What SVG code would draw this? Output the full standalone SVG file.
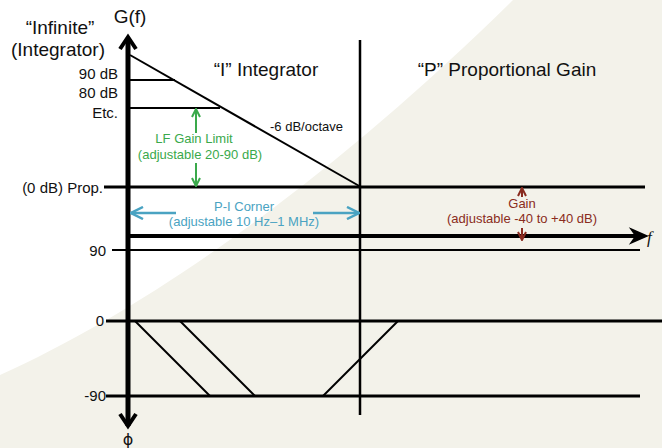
<svg xmlns="http://www.w3.org/2000/svg" width="662" height="448" viewBox="0 0 662 448">
<defs>
<style>
text{font-family:"Liberation Sans",Arial,sans-serif;fill:#111}
.big{font-size:19px}
.mid{font-size:15px}
.sm{font-size:13px}
.ax{stroke:#000;fill:none;stroke-linecap:butt}
.thin{stroke:#000;stroke-width:2;fill:none}
.dot{stroke:#000;stroke-width:3;fill:none}
.green{stroke:#3aa94b;stroke-width:2;fill:none}
.blue{stroke:#4aa3c2;stroke-width:2.5;fill:none}
.red{stroke:#8a2c20;stroke-width:2;fill:none}
</style>
<marker id="mg" viewBox="0 0 10 10" refX="9" refY="5" markerWidth="10" markerHeight="10" markerUnits="userSpaceOnUse" orient="auto"><polyline points="1,1 9,5 1,9" fill="none" stroke="#3aa94b" stroke-width="2"/></marker>
<marker id="mb" viewBox="0 0 14 14" refX="13" refY="7" markerWidth="14" markerHeight="14" markerUnits="userSpaceOnUse" orient="auto"><polyline points="1,1 13,7 1,13" fill="none" stroke="#4aa3c2" stroke-width="2.5"/></marker>
<marker id="mr" viewBox="0 0 10 10" refX="9" refY="5" markerWidth="10" markerHeight="10" markerUnits="userSpaceOnUse" orient="auto"><polyline points="1,1 9,5 1,9" fill="none" stroke="#8a2c20" stroke-width="2"/></marker>
</defs>
<rect width="662" height="448" fill="#fff"/>
<path d="M0,375 C160,303 340,170 513,0 L662,0 L662,448 L0,448 Z" fill="#f3f2ea"/>

<g id="connectors">
<line class="dot" x1="104" y1="187" x2="645" y2="187"/>
<line class="ax" stroke-width="2.5" x1="360" y1="40" x2="360" y2="415"/>
<line class="thin" x1="130" y1="55" x2="361" y2="187"/>
<line class="thin" x1="130" y1="80" x2="175" y2="80"/>
<line class="thin" x1="130" y1="108" x2="220" y2="108"/>
<line class="thin" x1="112" y1="250" x2="640" y2="250"/>
<line class="dot" x1="106" y1="321" x2="662" y2="321"/>
<line class="dot" x1="106" y1="396" x2="640" y2="396"/>
<line class="thin" x1="135" y1="321" x2="210" y2="396"/>
<line class="thin" x1="180" y1="321" x2="255" y2="396"/>
<line class="thin" x1="323" y1="396" x2="398" y2="321"/>
<line class="ax" stroke-width="4" x1="128" y1="236" x2="640" y2="236"/>
<path d="M631,229 L647,236 L631,243 L636,236 Z" fill="#000" stroke="#000" stroke-width="1.5"/>
<line class="ax" stroke-width="5" x1="128" y1="38" x2="128" y2="426"/>
<polyline class="ax" stroke-width="4" points="120,49 128,37 136,49"/>
<polyline class="ax" stroke-width="4" points="120,414 128,426 136,414"/>
<line class="green" x1="196" y1="133" x2="196" y2="109" marker-end="url(#mg)"/>
<line class="green" x1="196" y1="163" x2="196" y2="186" marker-end="url(#mg)"/>
<line class="blue" x1="176" y1="213" x2="131" y2="213" marker-end="url(#mb)"/>
<line class="blue" x1="313" y1="213" x2="359" y2="213" marker-end="url(#mb)"/>
<line class="red" x1="522" y1="197" x2="522" y2="188" marker-end="url(#mr)"/>
<line class="red" x1="522" y1="228" x2="522" y2="240" marker-end="url(#mr)"/>
</g>

<g id="axis-labels">
<text class="big" x="130" y="23" text-anchor="middle">G(f)</text>
<text class="big" x="60" y="34" text-anchor="middle">“Infinite”</text>
<text class="big" x="58" y="56" text-anchor="middle">(Integrator)</text>
<text x="647" y="243" style="font-family:'Liberation Serif',serif;font-style:italic;font-size:17px">f</text>
<text x="128" y="445" text-anchor="middle" style="font-family:'DejaVu Sans',sans-serif;font-size:16px">ϕ</text>
</g>
<g id="gain-labels">
<text class="mid" x="118" y="79" text-anchor="end">90 dB</text>
<text class="mid" x="118" y="98" text-anchor="end">80 dB</text>
<text class="mid" x="118" y="118" text-anchor="end">Etc.</text>
<text class="mid" x="103" y="193" text-anchor="end">(0 dB) Prop.</text>
<text class="mid" x="106" y="256" text-anchor="end">90</text>
<text class="mid" x="104" y="326" text-anchor="end">0</text>
<text class="mid" x="106" y="401" text-anchor="end">-90</text>
</g>
<g id="region-I">
<text class="big" x="266" y="76" text-anchor="middle">“I” Integrator</text>
<text class="sm" x="270" y="131">-6 dB/octave</text>
</g>
<g id="region-P">
<text class="big" x="507" y="76" text-anchor="middle">“P” Proportional Gain</text>
</g>
<g id="lf-gain-limit">
<text class="sm" x="194" y="143" text-anchor="middle" style="fill:#3aa94b">LF Gain Limit</text>
<text class="sm" x="200" y="159" text-anchor="middle" style="fill:#3aa94b">(adjustable 20-90 dB)</text>
</g>
<g id="pi-corner">
<text class="sm" x="244" y="211" text-anchor="middle" style="fill:#4aa3c2">P-I Corner</text>
<text class="sm" x="244" y="226" text-anchor="middle" style="fill:#4aa3c2">(adjustable 10 Hz–1 MHz)</text>
</g>
<g id="gain-adj">
<text class="sm" x="522" y="208" text-anchor="middle" style="fill:#8a2c20">Gain</text>
<text class="sm" x="522" y="223" text-anchor="middle" style="fill:#8a2c20">(adjustable -40 to +40 dB)</text>
</g>
</svg>
